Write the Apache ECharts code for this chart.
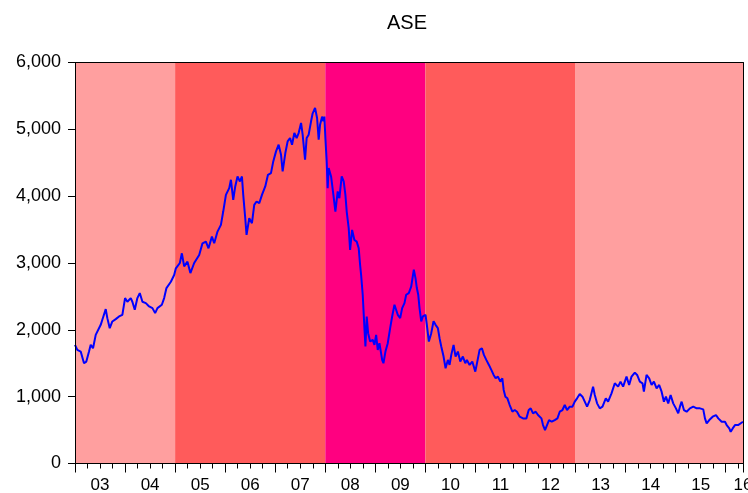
<!DOCTYPE html>
<html>
<head>
<meta charset="utf-8">
<script src="https://cdn.jsdelivr.net/npm/echarts@6/dist/echarts.min.js"></script>
<style>
	html, body { margin: 0; padding: 0; background: #fff; }
	#chart { width: 748px; height: 493px; }
</style>
</head>
<body>
<div id="chart"></div>
<script>
	'use strict'
	/*--data--*/
	var obsYear = [
		2003.000, 2003.046, 2003.114, 2003.180, 2003.226, 2003.280, 2003.314, 2003.360, 2003.414, 2003.446,
		2003.514, 2003.546, 2003.614, 2003.646, 2003.694, 2003.746, 2003.814, 2003.880, 2003.946, 2004.000,
		2004.046, 2004.114, 2004.146, 2004.194, 2004.246, 2004.294, 2004.347, 2004.415, 2004.481, 2004.547,
		2004.601, 2004.647, 2004.735, 2004.781, 2004.827, 2004.915, 2004.981, 2005.015, 2005.095, 2005.135,
		2005.181, 2005.247, 2005.305, 2005.381, 2005.481, 2005.547, 2005.615, 2005.667, 2005.735, 2005.781,
		2005.847, 2005.915, 2005.961, 2006.015, 2006.081, 2006.115, 2006.161, 2006.201, 2006.247, 2006.295,
		2006.335, 2006.361, 2006.401, 2006.427, 2006.481, 2006.535, 2006.581, 2006.627, 2006.681, 2006.735,
		2006.801, 2006.855, 2006.915, 2006.961, 2007.016, 2007.068, 2007.116, 2007.148, 2007.202, 2007.248,
		2007.296, 2007.336, 2007.382, 2007.428, 2007.468, 2007.516, 2007.548, 2007.596, 2007.628, 2007.668,
		2007.716, 2007.748, 2007.796, 2007.836, 2007.868, 2007.896, 2007.936, 2007.962, 2007.982, 2008.002,
		2008.028, 2008.048, 2008.068, 2008.116, 2008.162, 2008.202, 2008.248, 2008.282, 2008.328, 2008.368,
		2008.402, 2008.428, 2008.468, 2008.496, 2008.536, 2008.582, 2008.628, 2008.668, 2008.696, 2008.716,
		2008.748, 2008.782, 2008.802, 2008.828, 2008.856, 2008.896, 2008.948, 2008.982, 2009.016, 2009.048,
		2009.082, 2009.136, 2009.162, 2009.202, 2009.248, 2009.296, 2009.336, 2009.382, 2009.416, 2009.448,
		2009.496, 2009.536, 2009.582, 2009.616, 2009.668, 2009.716, 2009.769, 2009.803, 2009.829, 2009.857,
		2009.883, 2009.917, 2009.949, 2010.003, 2010.029, 2010.069, 2010.117, 2010.163, 2010.203, 2010.249,
		2010.283, 2010.317, 2010.363, 2010.403, 2010.449, 2010.483, 2010.517, 2010.563, 2010.603, 2010.649,
		2010.697, 2010.749, 2010.797, 2010.829, 2010.883, 2010.937, 2010.997, 2011.037, 2011.083, 2011.129,
		2011.169, 2011.217, 2011.269, 2011.317, 2011.363, 2011.403, 2011.449, 2011.497, 2011.537, 2011.564,
		2011.598, 2011.638, 2011.684, 2011.738, 2011.784, 2011.830, 2011.884, 2011.950, 2012.018, 2012.064,
		2012.104, 2012.150, 2012.204, 2012.250, 2012.318, 2012.350, 2012.390, 2012.430, 2012.470, 2012.524,
		2012.584, 2012.638, 2012.684, 2012.738, 2012.784, 2012.830, 2012.884, 2012.938, 2012.984, 2013.030,
		2013.084, 2013.138, 2013.184, 2013.230, 2013.284, 2013.350, 2013.384, 2013.430, 2013.484, 2013.538,
		2013.604, 2013.650, 2013.718, 2013.784, 2013.850, 2013.898, 2013.950, 2014.018, 2014.070, 2014.118,
		2014.184, 2014.230, 2014.284, 2014.338, 2014.365, 2014.418, 2014.471, 2014.519, 2014.565, 2014.619,
		2014.671, 2014.719, 2014.765, 2014.805, 2014.851, 2014.899, 2014.951, 2015.005, 2015.051, 2015.085,
		2015.119, 2015.165, 2015.219, 2015.285, 2015.351, 2015.419, 2015.485, 2015.551, 2015.585, 2015.619,
		2015.671, 2015.739, 2015.805, 2015.851, 2015.919, 2015.985, 2016.019, 2016.071, 2016.099, 2016.139,
		2016.185, 2016.247, 2016.315, 2016.345
	];
	var aseIndex = [
		1775, 1700, 1675, 1500, 1525, 1675, 1775, 1725, 1925, 1900,
		2075, 2150, 2310, 2175, 2025, 2125, 2160, 2200, 2225, 2475,
		2420, 2475, 2420, 2300, 2475, 2550, 2420, 2400, 2350, 2325,
		2250, 2325, 2375, 2475, 2625, 2720, 2820, 2920, 3000, 3145,
		2950, 3020, 2850, 3000, 3120, 3295, 3320, 3220, 3395, 3295,
		3470, 3570, 3770, 4020, 4120, 4245, 3945, 4145, 4295, 4220,
		4295, 4020, 3670, 3420, 3670, 3595, 3870, 3920, 3895, 4020,
		4145, 4320, 4345, 4520, 4670, 4770, 4620, 4370, 4645, 4820,
		4870, 4770, 4945, 4870, 4945, 5095, 4920, 4545, 4870, 4920,
		5120, 5240, 5320, 5170, 4845, 5070, 5190, 5120, 5190, 4870,
		4520, 4120, 4420, 4295, 4020, 3770, 4070, 3970, 4295, 4220,
		4020, 3770, 3520, 3195, 3495, 3345, 3320, 3220, 2970, 2820,
		2525, 2025, 1750, 2200, 1950, 1825, 1850, 1775, 1925, 1700,
		1800, 1550, 1500, 1675, 1800, 2025, 2200, 2375, 2400, 2225,
		2175, 2325, 2400, 2525, 2550, 2645, 2900, 2770, 2625, 2525,
		2325, 2125, 2200, 2225, 2075, 1825, 1950, 2130, 2075, 2025,
		1875, 1750, 1600, 1425, 1550, 1475, 1625, 1775, 1600, 1675,
		1525, 1600, 1500, 1550, 1475, 1525, 1375, 1525, 1700, 1725,
		1625, 1550, 1475, 1400, 1325, 1275, 1300, 1225, 1275, 1100,
		1000, 975, 875, 775, 800, 775, 700, 675, 675, 800,
		825, 750, 775, 725, 675, 575, 500, 575, 650, 625,
		650, 675, 775, 800, 875, 800, 850, 850, 925, 975,
		1040, 1000, 925, 850, 950, 1150, 1025, 900, 825, 850,
		975, 925, 1050, 1200, 1150, 1225, 1150, 1300, 1175, 1300,
		1360, 1325, 1225, 1200, 1075, 1325, 1275, 1175, 1225, 1125,
		1175, 1075, 925, 1000, 900, 1025, 900, 825, 750, 850,
		925, 800, 775, 825, 850, 825, 825, 810, 675, 600,
		650, 700, 725, 675, 625, 625, 575, 525, 475, 525,
		575, 575, 610, 625
	];
	// period breaks for the shaded regimes
	var periodBreaks = [2003, 2005, 2008, 2010, 2013, 2016.345];
	var yearLabels = ['03', '04', '05', '06', '07', '08', '09', '10', '11', '12', '13', '14', '15', '16'];
	/*--data--*/

	var periodColors = ['#ff9f9f', '#ff5b5b', '#ff0080', '#ff5b5b', '#ff9f9f'];
	var xMin = 2003, xMax = periodBreaks[periodBreaks.length - 1];
	var font = 'Arial, "Liberation Sans", sans-serif';

	var lineData = obsYear.map(function(y, i) {
		return [y, aseIndex[i]];
	});
	var bands = [];
	for (var i = 0; i < periodColors.length; i++) {
		bands.push([{
			xAxis: periodBreaks[i],
			itemStyle: { color: periodColors[i] }
		}, {
			xAxis: periodBreaks[i + 1]
		}]);
	}

	var chart = echarts.init(document.getElementById('chart'), null, { renderer: 'canvas' });
	var option = {
		animation: false,
		title: {
			text: 'ASE',
			left: 402,
			top: 8,
			textAlign: 'center',
			textStyle: {
				fontFamily: font,
				fontSize: 20,
				fontWeight: 'normal',
				color: '#000'
			}
		},
		grid: {
			left: 75,
			right: 5,
			top: 62.5,
			bottom: 29.5,
			outerBoundsMode: 'none',
			containLabel: false
		},
		xAxis: [{
			// tick axis: years and quarters
			type: 'value',
			position: 'bottom',
			min: xMin,
			max: xMax,
			interval: 1,
			z: 5,
			axisLine: { onZero: false, lineStyle: { color: '#000', width: 1 } },
			axisTick: { show: true, length: 9, lineStyle: { color: '#000' } },
			minorTick: { show: true, splitNumber: 4, length: 5, lineStyle: { color: '#000' } },
			axisLabel: { show: false },
			splitLine: { show: false }
		}, {
			// label axis: year labels at mid-year
			type: 'value',
			position: 'bottom',
			min: xMin,
			max: xMax,
			interval: 0.5,
			axisLine: { show: false, onZero: false },
			axisTick: { show: false },
			splitLine: { show: false },
			axisLabel: {
				show: true,
				margin: 13,
				showMaxLabel: true,
				showMinLabel: true,
				fontFamily: font,
				fontSize: 17,
				color: '#000',
				formatter: function(v) {
					var f = v - Math.floor(v);
					if (Math.abs(f - 0.5) < 1e-6) {
						return yearLabels[Math.floor(v) - 2003] || '';
					}
					if (Math.abs(v - xMax) < 1e-6) {
						return yearLabels[Math.floor(v) - 2003];
					}
					return '';
				}
			}
		}, {
			// frame top
			type: 'value',
			position: 'top',
			min: xMin,
			max: xMax,
			z: 5,
			axisLine: { show: true, onZero: false, lineStyle: { color: '#000', width: 1 } },
			axisTick: { show: false },
			axisLabel: { show: false },
			splitLine: { show: false }
		}],
		yAxis: [{
			type: 'value',
			position: 'left',
			min: 0,
			max: 6000,
			interval: 1000,
			z: 5,
			axisLine: { show: true, lineStyle: { color: '#000', width: 1 } },
			axisTick: { show: true, length: 7, lineStyle: { color: '#000' } },
			splitLine: { show: false },
			axisLabel: {
				margin: 14,
				fontFamily: font,
				fontSize: 18,
				color: '#000',
				formatter: function(v) {
					return String(v).replace(/\B(?=(\d{3})+(?!\d))/g, ',');
				}
			}
		}, {
			// frame right
			type: 'value',
			position: 'right',
			min: 0,
			max: 6000,
			z: 5,
			axisLine: { show: true, lineStyle: { color: '#000', width: 1 } },
			axisTick: { show: false },
			axisLabel: { show: false },
			splitLine: { show: false }
		}],
		series: [{
			name: 'ASE',
			type: 'line',
			xAxisIndex: 0,
			yAxisIndex: 0,
			data: lineData,
			showSymbol: false,
			symbol: 'none',
			lineStyle: { color: '#0000ff', width: 2 },
			z: 3,
			markArea: {
				silent: true,
				z: 1,
				data: bands
			}
		}]
	};
	chart.setOption(option);
</script>
</body>
</html>
